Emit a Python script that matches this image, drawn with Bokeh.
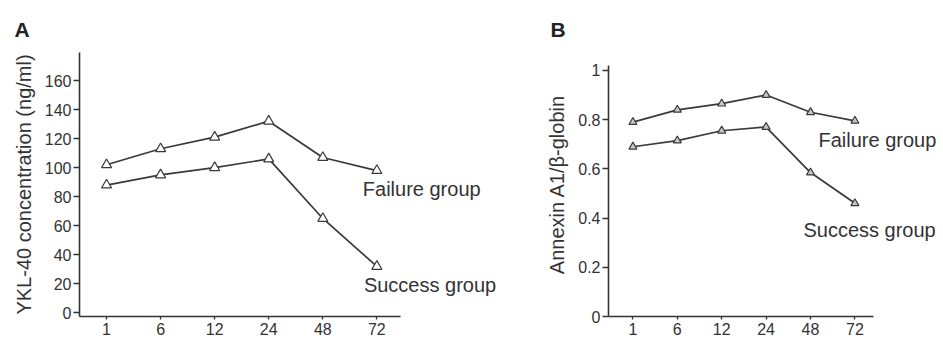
from bokeh.plotting import figure
from bokeh.models import Range1d, FixedTicker, Label
from bokeh.layouts import row
from bokeh.embed import file_html
from bokeh.resources import INLINE

hours = ["1", "6", "12", "24", "48", "72"]

ykl_failure = [102, 113, 121, 132, 107, 98]
ykl_success = [88, 95, 100, 106, 65, 32]
ykl_ticks = [0, 20, 40, 60, 80, 100, 120, 140, 160]

anx_failure = [0.79, 0.84, 0.865, 0.90, 0.83, 0.795]
anx_success = [0.69, 0.715, 0.755, 0.77, 0.585, 0.46]
anx_ticks = [0, 0.2, 0.4, 0.6, 0.8, 1]
anx_tick_labels = ["0", "0.2", "0.4", "0.6", "0.8", "1"]

idx = list(range(len(hours)))

FONT = "Liberation Sans"
INK = "#333333"
LINE = "#3a3a3a"


def style(p, ylabel, letter, letter_offset, xbounds):
    p.xgrid.visible = False
    p.ygrid.visible = False
    p.outline_line_color = None
    p.background_fill_color = "white"
    p.border_fill_color = "white"
    for ax in (p.xaxis[0], p.yaxis[0]):
        ax.axis_line_color = INK
        ax.axis_line_width = 1.6
        ax.major_tick_line_color = INK
        ax.major_tick_line_width = 1.3
        ax.minor_tick_line_color = None
        ax.major_tick_in = 0
        ax.major_label_text_font = FONT
        ax.major_label_text_font_size = "16px"
        ax.major_label_text_color = INK
    p.xaxis.ticker = FixedTicker(ticks=idx)
    p.xaxis.major_label_overrides = {i: h for i, h in zip(idx, hours)}
    p.xaxis.bounds = xbounds
    p.xaxis.major_tick_out = 3
    p.xaxis.major_label_standoff = 3
    p.xaxis.axis_label_standoff = 0
    p.yaxis.major_tick_out = 6
    p.yaxis.major_label_standoff = 2
    p.yaxis.axis_label = ylabel
    p.yaxis.axis_label_text_font = FONT
    p.yaxis.axis_label_text_font_size = "20px"
    p.yaxis.axis_label_text_font_style = "normal"
    p.yaxis.axis_label_text_color = INK
    p.yaxis.axis_label_standoff = 7
    p.title.text = letter
    p.title.align = "left"
    p.title.vertical_align = "top"
    p.title.offset = letter_offset
    p.title.text_font = FONT
    p.title.text_font_size = "21px"
    p.title.text_font_style = "bold"
    p.title.text_color = "#222222"
    try:
        p.title.standoff = 20
    except Exception:
        pass


def series(p, ys, size, fill):
    p.line(idx, ys, line_color=LINE, line_width=1.7)
    p.scatter(idx, ys, marker="triangle", size=size, line_color=LINE,
              line_width=1.2, fill_color=fill)


def text(p, x, y, s):
    p.add_layout(Label(x=x, y=y, text=s, text_font=FONT, text_font_size="20px",
                       text_color=INK, text_baseline="middle", text_align="left"))


# Panel A (wider canvas so its group labels are not cut)
pa = figure(width=500, height=343, x_range=Range1d(-0.5, 7.25),
            y_range=Range1d(-2.5, 179.3), output_backend="svg",
            toolbar_location=None, min_border_left=79, min_border_right=2,
            min_border_top=52, min_border_bottom=27)
style(pa, "YKL-40 concentration (ng/ml)", "A", -65, (-0.5, 5.44))
pa.yaxis.ticker = FixedTicker(ticks=ykl_ticks)
series(pa, ykl_failure, 10, "white")
series(pa, ykl_success, 10, "white")
text(pa, 4.74, 85.0, "Failure group")
text(pa, 4.76, 18.9, "Success group")

# Panel B (frame shares A's top and bottom; its axis line stops at 1.02)
pb = figure(width=443, height=343, x_range=Range1d(-0.55, 6.95),
            y_range=Range1d(0, 1.073), output_backend="svg",
            toolbar_location=None, min_border_left=108, min_border_right=2,
            min_border_top=52, min_border_bottom=27)
style(pb, "Annexin A1/β-globin", "B", -58, (-0.55, 5.42))
pb.yaxis.ticker = FixedTicker(ticks=anx_ticks)
pb.yaxis.bounds = (0, 1.02)
pb.yaxis.major_label_overrides = {t: l for t, l in zip(anx_ticks, anx_tick_labels)}
series(pb, anx_failure, 8, "#c8c8c8")
series(pb, anx_success, 8, "#c8c8c8")
text(pb, 4.18, 0.719, "Failure group")
text(pb, 3.84, 0.353, "Success group")

layout = row(pa, pb)
open("out.html", "w").write(file_html(layout, INLINE))
